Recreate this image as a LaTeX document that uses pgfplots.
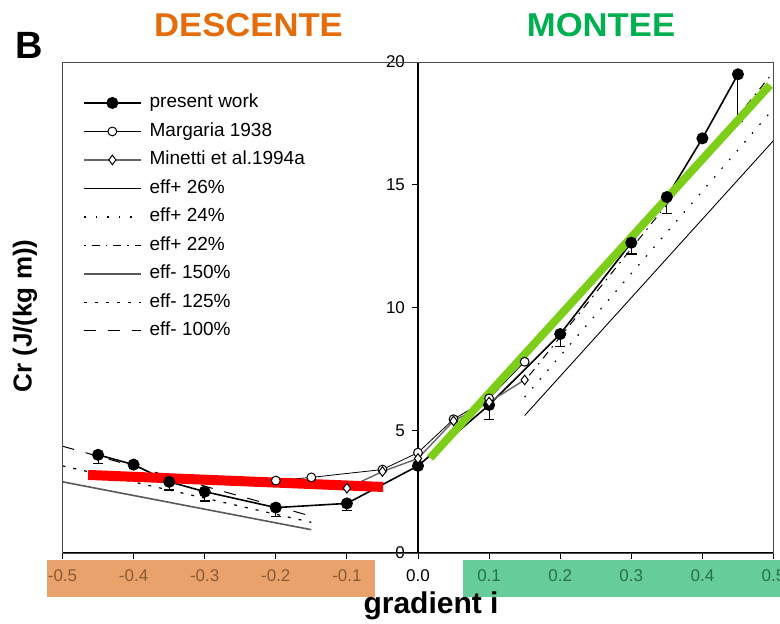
\documentclass[border=0pt]{standalone}
\usepackage{pgfplots}
\pgfplotsset{compat=1.18}
\usepackage{fontspec}
\setmainfont{Liberation Sans}
\usetikzlibrary{backgrounds}
\definecolor{descorange}{RGB}{228,108,10}
\definecolor{monteegreen}{RGB}{0,176,80}
\definecolor{boxorange}{RGB}{233,162,108}
\definecolor{boxgreen}{RGB}{102,204,153}
\definecolor{tickorange}{RGB}{140,90,50}
\definecolor{tickgreen}{RGB}{35,115,70}
\definecolor{greenline}{RGB}{125,206,25}
\begin{document}
\begin{tikzpicture}
\begin{axis}[
  scale only axis, width=355.5pt, height=245.5pt,
  xmin=-0.5, xmax=0.5, ymin=0, ymax=20,
  axis lines=middle, axis line style={-, black, line width=0.6pt},
  hide obscured x ticks=false, hide obscured y ticks=false,
  xtick={-0.5,-0.4,-0.3,-0.2,-0.1,0,0.1,0.2,0.3,0.4,0.5},
  xticklabels={\textcolor{tickorange}{-0.5},\textcolor{tickorange}{-0.4},\textcolor{tickorange}{-0.3},\textcolor{tickorange}{-0.2},\textcolor{tickorange}{-0.1},0.0,\textcolor{tickgreen}{0.1},\textcolor{tickgreen}{0.2},\textcolor{tickgreen}{0.3},\textcolor{tickgreen}{0.4},\textcolor{tickgreen}{0.5}},
  ytick={0,5,10,15,20}, yticklabels={0,5,10,15,20},
  tick align=outside, major tick length=3pt,
  tick style={black, line width=0.5pt},
  x tick label style={font=\fontsize{8.5}{10}\selectfont, yshift=-2pt},
  y tick label style={font=\fontsize{8.5}{10}\selectfont},
  clip=false,
  legend image code/.code={\draw[mark repeat=2,mark phase=2,#1] plot coordinates {(0cm,0cm) (0.5cm,0cm) (1cm,0cm)};},
  legend cell align=left,
  legend style={at={(0.02,0.948)}, anchor=north west, draw=none, fill=none,
    font=\fontsize{9.5}{11}\selectfont, row sep=3.25pt,
    nodes={text height=7pt, text depth=2pt, inner sep=1pt},
    /tikz/every odd column/.append style={column sep=3pt}},
]
% present work
\addplot[black, line width=0.8pt, mark=*, mark size=2.6pt,
  error bars/.cd, y dir=minus, y explicit,
  error bar style={black, line width=0.5pt},
  error mark=-,
  error mark options={black, rotate=90, mark size=2.6pt, line width=0.6pt}]
  coordinates {
  (-0.45,4.00) -= (0,0.35)
  (-0.40,3.60) -= (0,0)
  (-0.35,2.90) -= (0,0.33)
  (-0.30,2.50) -= (0,0.38)
  (-0.20,1.85) -= (0,0.35)
  (-0.10,2.02) -= (0,0.30)
  (0.00,3.55) -= (0,0)
  (0.10,6.03) -= (0,0.60)
  (0.20,8.92) -= (0,0.50)
  (0.30,12.64) -= (0,0.46)
  (0.35,14.50) -= (0,0.66)
  (0.40,16.89) -= (0,0)
  (0.45,19.50) -= (0,1.93)
  };
\addlegendentry{present work}
% Margaria 1938
\addplot[black, line width=0.4pt, mark=*, mark size=2.2pt, mark options={fill=white, line width=0.5pt}]
  coordinates {(-0.20,2.95) (-0.15,3.08) (-0.05,3.40) (0.00,4.09) (0.05,5.45) (0.10,6.30) (0.15,7.79)};
\addlegendentry{Margaria 1938}
% Minetti 1994a
\addplot[black!60, line width=0.7pt, mark=diamond*, mark size=2.4pt, mark options={fill=white, draw=black, line width=0.5pt}]
  coordinates {(-0.10,2.64) (-0.05,3.32) (0.00,3.85) (0.05,5.38) (0.10,6.15) (0.15,7.05)};
\addlegendentry{Minetti et al.1994a}
% eff+ lines
\addplot[black, line width=0.45pt] coordinates {(0.15,5.6) (0.50,16.8)};
\addlegendentry{eff+ 26\%}
\addplot[black, line width=0.6pt, dash pattern=on 0.8pt off 5pt] coordinates {(0.15,6.35) (0.50,18.1)};
\addlegendentry{eff+ 24\%}
\addplot[black, line width=0.5pt, dash pattern=on 0.8pt off 3pt on 4pt off 3pt] coordinates {(0.15,7.0) (0.50,19.6)};
\addlegendentry{eff+ 22\%}
% eff- lines
\addplot[black!65, line width=0.8pt] coordinates {(-0.50,2.90) (-0.15,0.95)};
\addlegendentry{eff- 150\%}
\addplot[black, line width=0.6pt, dash pattern=on 1.5pt off 4pt] coordinates {(-0.50,3.55) (-0.15,1.25)};
\addlegendentry{eff- 125\%}
\addplot[black, line width=0.5pt, dash pattern=on 6pt off 6pt] coordinates {(-0.50,4.35) (-0.15,1.50)};
\addlegendentry{eff- 100\%}
% annotation lines
\addplot[red, line width=5pt, forget plot] coordinates {(-0.464,3.18) (-0.049,2.69)};
\addplot[greenline, line width=4pt, forget plot] coordinates {(0.017,3.87) (0.495,19.06)};
\draw[black!70, line width=0.5pt] (rel axis cs:0,0) rectangle (rel axis cs:1,1);
\coordinate (O) at (axis cs:0,0);
\end{axis}
\begin{scope}[on background layer]
\fill[boxorange] (O) ++(-185.5pt,-3.5pt) rectangle ++(164pt,-18.5pt);
\fill[boxgreen] (O) ++(22.5pt,-3.5pt) rectangle ++(158.5pt,-18.5pt);
\end{scope}
\node[font=\fontsize{16.5}{18}\selectfont\bfseries, text=descorange, xscale=1.05] at ([shift={(-84.75pt,264pt)}]O) {DESCENTE};
\node[font=\fontsize{16.5}{18}\selectfont\bfseries, text=monteegreen, xscale=1.05] at ([shift={(91.5pt,264pt)}]O) {MONTEE};
\node[font=\fontsize{19}{21}\selectfont\bfseries] at ([shift={(-194.25pt,254pt)}]O) {B};
\node[font=\fontsize{13}{15}\selectfont\bfseries, rotate=90] at ([shift={(-196.5pt,118.5pt)}]O) {Cr (J/(kg m))};
\node[font=\fontsize{15}{17}\selectfont\bfseries] at ([shift={(6.5pt,-26.5pt)}]O) {gradient i};
\pgfresetboundingbox
\path (O) ++(-209pt,-35pt) rectangle ++(390pt,311.5pt);
\end{tikzpicture}
\end{document}
